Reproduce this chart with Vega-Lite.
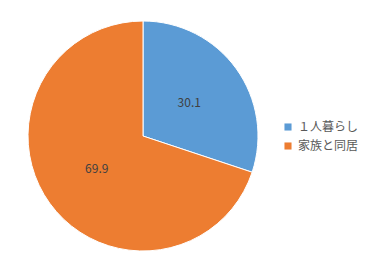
{
  "$schema": "https://vega.github.io/schema/vega-lite/v6.json",
  "autosize": {"type": "none"},
  "width": 286,
  "height": 272,
  "padding": {"left": 0, "top": 0, "right": 94, "bottom": 0},
  "background": "white",
  "config": {"view": {"stroke": null}, "font": "Noto Sans CJK JP"},
  "data": {"values": [
    {"category": "１人暮らし", "value": 30.1},
    {"category": "家族と同居", "value": 69.9}
  ]},
  "encoding": {
    "theta": {"field": "value", "type": "quantitative", "stack": true},
    "order": {"field": "category", "type": "nominal", "sort": "descending"},
    "color": {
      "field": "category", "type": "nominal",
      "sort": ["１人暮らし", "家族と同居"],
      "scale": {"domain": ["１人暮らし", "家族と同居"], "range": ["#5B9BD5", "#ED7D31"]},
      "legend": {
        "orient": "none", "legendX": 282, "legendY": 121, "title": null,
        "symbolType": "square", "symbolSize": 50, "symbolStrokeWidth": 0,
        "labelFontSize": 12, "labelColor": "#595959", "rowPadding": 7,
        "labelOffset": 4, "labelFont": "Noto Sans CJK JP"
      }
    }
  },
  "layer": [
    {"mark": {"type": "arc", "outerRadius": 115, "stroke": "white", "strokeWidth": 1}},
    {"mark": {"type": "text", "radius": 57, "fontSize": 12, "font": "Noto Sans CJK JP"},
     "encoding": {"text": {"field": "value", "type": "quantitative", "format": ".1f"}, "detail": {"field": "category", "type": "nominal"}, "color": {"value": "#404040"}}}
  ]
}
